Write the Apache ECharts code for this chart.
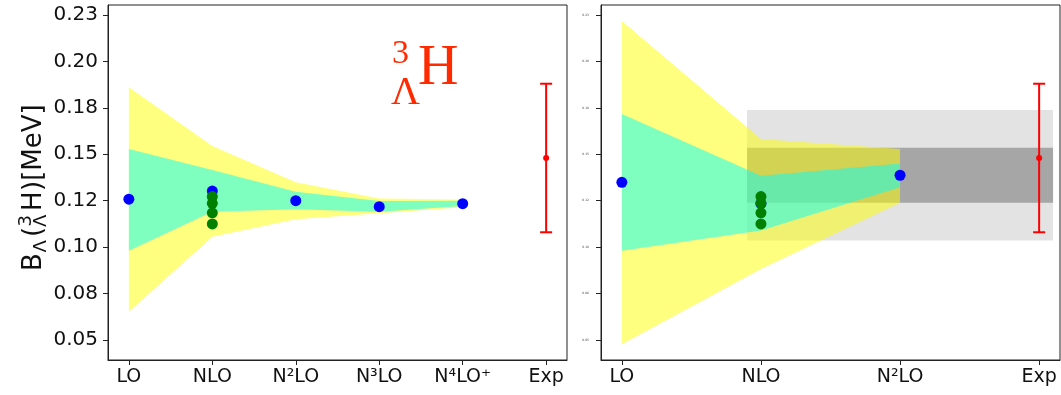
<!DOCTYPE html>
<html>
<head>
<meta charset="utf-8">
<script src="https://cdn.jsdelivr.net/npm/echarts@6/dist/echarts.min.js"></script>
<style>
  html, body { margin: 0; padding: 0; background: #ffffff; }
  #chart { width: 1061px; height: 395px; }
</style>
</head>
<body>
<div id="chart"></div>
<script>
// ---- axis categories and ticks ----
const ordersLeft = ['LO', 'NLO', 'N²LO', 'N³LO', 'N⁴LO⁺', 'Exp'];
const ordersRight = ['LO', 'NLO', 'N²LO', 'Exp'];
const yTickValues = [0.05, 0.075, 0.1, 0.125, 0.15, 0.175, 0.2, 0.225];
const yTickLabels = ['0.05', '0.08', '0.10', '0.12', '0.15', '0.18', '0.20', '0.23'];

// ---- left panel: LO ... N4LO+ ----
const centralLeft    = [0.1258, 0.1302, 0.1250, 0.1218, 0.1234];
const outerUpperLeft = [0.1861, 0.1545, 0.1349, 0.1262, 0.1257];
const outerLowerLeft = [0.0652, 0.1056, 0.1150, 0.1182, 0.1215];
const innerUpperLeft = [0.1528, 0.1415, 0.1298, 0.1248, 0.1250];
const innerLowerLeft = [0.0981, 0.1191, 0.1204, 0.1191, 0.1222];

// ---- right panel: LO ... N2LO ----
const centralRight    = [0.1349, 0.1234, 0.1387];
const outerUpperRight = [0.2218, 0.1582, 0.1528];
const outerLowerRight = [0.0477, 0.0882, 0.1239];
const innerUpperRight = [0.1717, 0.1384, 0.1451];
const innerLowerRight = [0.0981, 0.1089, 0.1322];

// NLO variants (shown at the NLO position in both panels)
const nloVariants = [0.1272, 0.1236, 0.1185, 0.1125];

// horizontal uncertainty bands (right panel)
const bandX = [0.9, 3.1];
const darkBand = [0.1239, 0.1535];
const lightBand = [0.1035, 0.1738];

// experiment
const expValue = 0.148;
const expError = 0.040;

// ---- helpers ----
const AX = '#222222';
const FONT = 'DejaVu Sans';

function bandSeries(grid, upper, lower, color, z) {
  return {
    type: 'custom',
    xAxisIndex: grid, yAxisIndex: grid,
    z: z,
    silent: true,
    data: upper.map((u, i) => [i, lower[i], u]),
    encode: { x: 0, y: [1, 2] },
    renderItem: function (params, api) {
      if (params.dataIndex !== 0) return null;
      const pts = [];
      for (let i = 0; i < upper.length; i++) pts.push(api.coord([i, upper[i]]));
      for (let i = lower.length - 1; i >= 0; i--) pts.push(api.coord([i, lower[i]]));
      return { type: 'polygon', shape: { points: pts }, style: { fill: color, opacity: 0.5 } };
    }
  };
}

function rectSeries(grid, xr, yr, color, z) {
  return {
    type: 'custom',
    xAxisIndex: grid, yAxisIndex: grid,
    z: z,
    silent: true,
    data: [[xr[0], xr[1], yr[0], yr[1]]],
    encode: { x: [0, 1], y: [2, 3] },
    renderItem: function (params, api) {
      const p0 = api.coord([api.value(0), api.value(3)]);
      const p1 = api.coord([api.value(1), api.value(2)]);
      return { type: 'rect', shape: { x: p0[0], y: p0[1], width: p1[0] - p0[0], height: p1[1] - p0[1] },
               style: { fill: color } };
    }
  };
}

function errorBarSeries(grid, x) {
  return {
    type: 'custom',
    xAxisIndex: grid, yAxisIndex: grid,
    z: 6,
    silent: true,
    data: [[x, expValue - expError, expValue + expError]],
    encode: { x: 0, y: [1, 2] },
    renderItem: function (params, api) {
      const lo = api.coord([api.value(0), api.value(1)]);
      const hi = api.coord([api.value(0), api.value(2)]);
      const cap = 6;
      const st = { stroke: '#ff0000', lineWidth: 2 };
      return {
        type: 'group',
        children: [
          { type: 'line', shape: { x1: lo[0], y1: lo[1], x2: hi[0], y2: hi[1] }, style: st },
          { type: 'line', shape: { x1: lo[0] - cap, y1: lo[1], x2: lo[0] + cap, y2: lo[1] }, style: st },
          { type: 'line', shape: { x1: hi[0] - cap, y1: hi[1], x2: hi[0] + cap, y2: hi[1] }, style: st }
        ]
      };
    }
  };
}

function xAxisFor(grid, labels, min, max) {
  const vals = labels.map((_, i) => i);
  return {
    type: 'value', gridIndex: grid, min: min, max: max,
    splitLine: { show: false },
    axisLine: { show: true, onZero: false, lineStyle: { color: AX, width: 1 } },
    axisTick: { show: true, customValues: vals, length: 5, lineStyle: { color: AX, width: 1 } },
    axisLabel: {
      customValues: vals, margin: 8, fontSize: 19, fontFamily: FONT, color: '#111',
      formatter: v => labels[Math.round(v)]
    }
  };
}

function yAxisFor(grid, tiny) {
  return {
    type: 'value', gridIndex: grid, min: 0.0392, max: 0.2304,
    splitLine: { show: false },
    axisLine: { show: true, onZero: false, lineStyle: { color: AX, width: 1 } },
    axisTick: { show: true, customValues: yTickValues, length: 5, lineStyle: { color: AX, width: 1 } },
    axisLabel: {
      customValues: yTickValues, margin: tiny ? 12 : 10,
      fontSize: tiny ? 3 : 20, fontFamily: FONT, color: tiny ? '#444' : '#111',
      formatter: v => yTickLabels[Math.round((v - 0.05) / 0.025)]
    }
  };
}

function scatter(grid, data, color, size, z) {
  return {
    type: 'scatter', xAxisIndex: grid, yAxisIndex: grid, z: z, silent: true,
    symbol: 'circle', symbolSize: size,
    itemStyle: { color: color, opacity: 1 },
    data: data
  };
}

const nloIndex = ordersLeft.indexOf('NLO');
const expLeft = ordersLeft.indexOf('Exp');
const expRight = ordersRight.indexOf('Exp');

// axis title pieces: B_Λ(^3_Λ H)[MeV], laid out along the rotated baseline
const S = 26, s = 18;
const titlePieces = [
  { text: 'B', x: -88, y: 0, size: S },
  { text: 'Λ', x: -69.5, y: 5, size: s },
  { text: '(', x: -54, y: 0, size: S },
  { text: '3', x: -43.5, y: -10, size: s },
  { text: 'Λ', x: -44, y: 5, size: s },
  { text: 'H', x: -28, y: 0, size: S },
  { text: ')[MeV]', x: -8, y: 0, size: S }
];

const option = {
  animation: false,
  backgroundColor: '#ffffff',
  grid: [
    { left: 108, top: 5, width: 459, height: 355, show: true, borderColor: AX, borderWidth: 1, backgroundColor: 'transparent' },
    { left: 601, top: 5, width: 459, height: 355, show: true, borderColor: AX, borderWidth: 1, backgroundColor: 'transparent' }
  ],
  xAxis: [
    xAxisFor(0, ordersLeft, -0.25, 5.25),
    xAxisFor(1, ordersRight, -0.15, 3.15)
  ],
  yAxis: [yAxisFor(0, false), yAxisFor(1, true)],
  series: [
    // left panel
    bandSeries(0, outerUpperLeft, outerLowerLeft, '#ffff00', 2),
    bandSeries(0, innerUpperLeft, innerLowerLeft, '#00ffff', 3),
    scatter(0, centralLeft.map((v, i) => [i, v]), '#0000ff', 11, 5),
    scatter(0, nloVariants.map(v => [nloIndex, v]), '#008000', 11, 5),
    errorBarSeries(0, expLeft),
    scatter(0, [[expLeft, expValue]], '#ff0000', 6, 7),
    // right panel
    rectSeries(1, bandX, lightBand, '#e3e3e3', 1),
    rectSeries(1, bandX, darkBand, '#a6a6a6', 1),
    bandSeries(1, outerUpperRight, outerLowerRight, '#ffff00', 2),
    bandSeries(1, innerUpperRight, innerLowerRight, '#00ffff', 3),
    scatter(1, centralRight.map((v, i) => [i, v]), '#0000ff', 11, 5),
    scatter(1, nloVariants.map(v => [nloIndex, v]), '#008000', 11, 5),
    errorBarSeries(1, expRight),
    scatter(1, [[expRight, expValue]], '#ff0000', 6, 7)
  ],
  graphic: [
    {
      type: 'group', x: 43, y: 183, rotation: Math.PI / 2,
      children: titlePieces.map(p => ({
        type: 'text', x: p.x, y: p.y - 0.35 * p.size,
        style: { text: p.text, fontSize: p.size, fontFamily: FONT, fill: '#111', textAlign: 'left', verticalAlign: 'middle' }
      }))
    },
    // hypertriton symbol
    { type: 'text', x: 392, y: 65 - 0.33 * 34, style: { text: '3', fontSize: 34, fontFamily: 'Liberation Serif', fill: '#ff2a00', verticalAlign: 'middle' } },
    { type: 'text', x: 391, y: 107 - 0.33 * 40, style: { text: 'Λ', fontSize: 40, fontFamily: 'Liberation Serif', fill: '#ff2a00', verticalAlign: 'middle' } },
    { type: 'text', x: 418, y: 88 - 0.33 * 56, style: { text: 'H', fontSize: 56, fontFamily: 'Liberation Serif', fill: '#ff2a00', verticalAlign: 'middle' } }
  ]
};

const chart = echarts.init(document.getElementById('chart'), null, { renderer: 'canvas' });
chart.setOption(option);
</script>
</body>
</html>
